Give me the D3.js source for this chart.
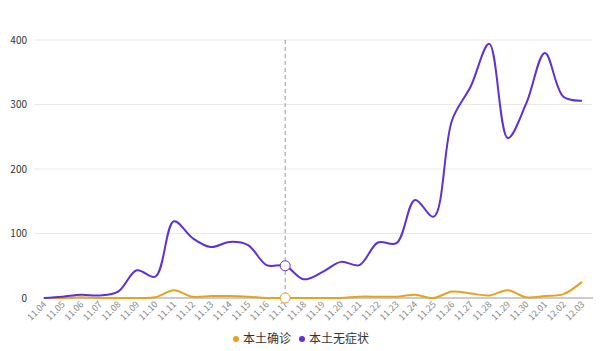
<!DOCTYPE html>
<html>
<head>
<meta charset="utf-8">
<script src="https://cdn.jsdelivr.net/npm/d3@7"></script>
<style>
    body { margin: 0; background: #fff; font-family: "Noto Sans CJK SC", "Noto Sans", sans-serif; }
</style>
</head>
<body>
<script>
var dates = ["11.04", "11.05", "11.06", "11.07", "11.08", "11.09", "11.10", "11.11", "11.12", "11.13",
    "11.14", "11.15", "11.16", "11.17", "11.18", "11.19", "11.20", "11.21", "11.22", "11.23",
    "11.24", "11.25", "11.26", "11.27", "11.28", "11.29", "11.30", "12.01", "12.02", "12.03"];

var confirmed = [0, 0, 1, 0, 0, 0, 1, 12, 2, 3, 3, 2, 0, 0, 0, 0, 0, 2, 2, 2,
    5, 0, 10, 7, 4, 12, 1, 3, 6, 25];

var asymptomatic = [0, 2, 5, 4, 10, 43, 33, 119, 93, 79, 87, 82, 51, 50, 29, 40, 56, 51, 86, 85,
    152, 126, 276, 328, 394, 248, 302, 380, 312, 306];

var yTicks = [0, 100, 200, 300, 400];
var seriesNames = ["本土确诊", "本土无症状"];
var seriesColors = ["#e8a21c", "#5f2fd8"];
var hoverDate = "11.17";

var width = 602,
    height = 351;

var svg = d3.select("body").append("svg")
    .attr("width", width)
    .attr("height", height);

var x = d3.scalePoint()
    .domain(dates)
    .range([44, 582]);

var y = d3.scaleLinear()
    .domain([0, 400])
    .range([298, 40]);

// grid lines
svg.append("g")
    .selectAll("line")
    .data(yTicks.filter(function (d) { return d > 0; }))
    .enter().append("line")
    .attr("x1", 34)
    .attr("x2", 592)
    .attr("y1", function (d) { return y(d); })
    .attr("y2", function (d) { return y(d); })
    .attr("stroke", "#e9e9e9")
    .attr("stroke-width", 1);

// y labels
svg.append("g")
    .selectAll("text")
    .data(yTicks)
    .enter().append("text")
    .attr("x", 27)
    .attr("y", function (d) { return y(d); })
    .attr("dy", "0.35em")
    .attr("text-anchor", "end")
    .attr("font-size", 10)
    .attr("fill", "#333")
    .text(function (d) { return d; });

// x axis line
svg.append("line")
    .attr("x1", 43)
    .attr("x2", 593)
    .attr("y1", y(0))
    .attr("y2", y(0))
    .attr("stroke", "#999")
    .attr("stroke-width", 1);

// x labels, rotated
svg.append("g")
    .selectAll("text")
    .data(dates)
    .enter().append("text")
    .attr("transform", function (d) { return "translate(" + (x(d) + 3) + "," + 305 + ") rotate(-45)"; })
    .attr("text-anchor", "end")
    .attr("font-size", 9)
    .attr("fill", "#888")
    .text(function (d) { return d; });

// hover guide
svg.append("line")
    .attr("x1", x(hoverDate))
    .attr("x2", x(hoverDate))
    .attr("y1", y(400))
    .attr("y2", y(0))
    .attr("stroke", "#999")
    .attr("stroke-dasharray", "4,3");

var series = [confirmed, asymptomatic];

var line = d3.line()
    .x(function (d, i) { return x(dates[i]); })
    .y(function (d) { return y(d); })
    .curve(d3.curveCatmullRom.alpha(0.5));

series.forEach(function (values, k) {
    svg.append("path")
        .datum(values)
        .attr("fill", "none")
        .attr("stroke", seriesColors[k])
        .attr("stroke-width", 2)
        .attr("stroke-linejoin", "round")
        .attr("d", line);
});

// hover markers
var hi = dates.indexOf(hoverDate);
series.forEach(function (values, k) {
    svg.append("circle")
        .attr("cx", x(hoverDate))
        .attr("cy", y(values[hi]))
        .attr("r", 5)
        .attr("fill", "#fff")
        .attr("stroke", seriesColors[k])
        .attr("stroke-width", 1);
});

// legend
var legend = svg.append("g")
    .attr("transform", "translate(0,339)");

var lx = [236, 302];
seriesNames.forEach(function (name, k) {
    legend.append("circle")
        .attr("cx", lx[k])
        .attr("cy", 0)
        .attr("r", 3)
        .attr("fill", seriesColors[k]);
    legend.append("text")
        .attr("x", lx[k] + 7)
        .attr("y", 0)
        .attr("dy", "0.35em")
        .attr("font-size", 12)
        .attr("fill", "#333")
        .text(name);
});
</script>
</body>
</html>
